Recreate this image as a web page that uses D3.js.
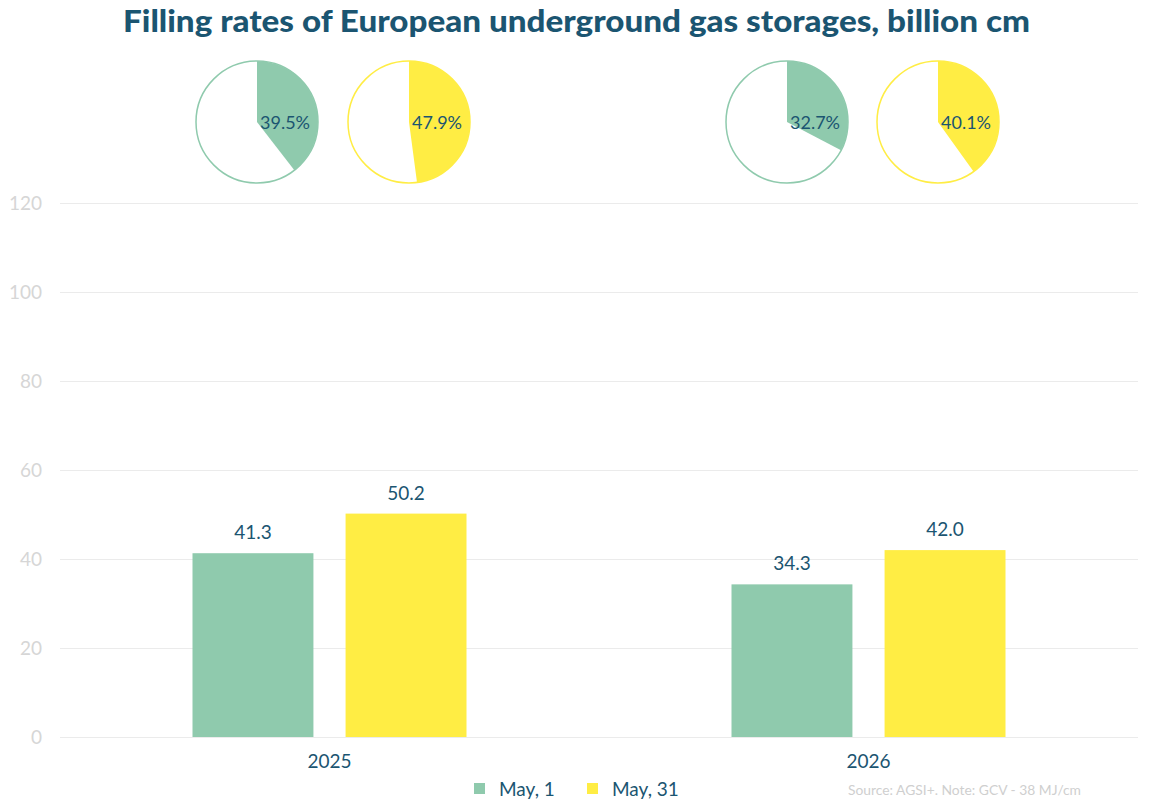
<!DOCTYPE html>
<html><head><meta charset="utf-8">
<script src="https://cdn.jsdelivr.net/npm/d3@7"></script>
<style>body{margin:0;background:#fff;} svg{display:block;font-family:Lato,"Open Sans",sans-serif;}</style>
</head><body>
<svg id="c" width="1160" height="806"></svg>
<script>
const categories = ["2025", "2026"];
const seriesNames = ["May, 1", "May, 31"];
const may1 = [41.3, 34.3];
const may31 = [50.2, 42.0];
const pctMay1 = [39.5, 32.7];
const pctMay31 = [47.9, 40.1];
const yTicks = [0, 20, 40, 60, 80, 100, 120];
const colors = ["#8fcaad", "#ffed44"];
const textColor = "#1b5571";

const svg = d3.select("#c");
const plotLeft = 60, plotRight = 1138, plotTop = 203, plotBottom = 737;

svg.append("text").attr("x", 123).attr("y", 32)
  .attr("font-size", 31).attr("font-weight", 900).attr("fill", textColor)
  .attr("textLength", 907).attr("lengthAdjust", "spacingAndGlyphs")
  .text("Filling rates of European underground gas storages, billion cm");

const y = d3.scaleLinear().domain([0, 120]).range([plotBottom, plotTop]);
const x = d3.scaleBand().domain(categories).range([plotLeft, plotRight]);
const xs = d3.scaleBand().domain(seriesNames).range([0, 274]).paddingInner(0.21);

// grid
const yAxis = d3.axisLeft(y).tickValues(yTicks).tickSize(-(plotRight - plotLeft)).tickPadding(18);
const gy = svg.append("g").attr("transform", `translate(${plotLeft},0)`).call(yAxis);
gy.select(".domain").remove();
gy.selectAll(".tick line").attr("stroke", "#ebebeb");
gy.selectAll(".tick text").attr("fill", "#d6d6d6").attr("font-size", 19).attr("font-family", "Lato");

const data = [may1, may31];
categories.forEach((c, i) => {
  const cx = x(c) + x.bandwidth() / 2;
  const gx = cx - 137;
  seriesNames.forEach((s, j) => {
    const v = data[j][i];
    svg.append("rect").attr("x", gx + xs(s)).attr("y", y(v))
      .attr("width", xs.bandwidth()).attr("height", y(0) - y(v)).attr("fill", colors[j]);
    svg.append("text").attr("x", gx + xs(s) + xs.bandwidth() / 2).attr("y", y(v) - 14)
      .attr("text-anchor", "middle").attr("font-size", 19).attr("fill", textColor)
      .text(v.toFixed(1));
  });
  svg.append("text").attr("x", cx).attr("y", 768).attr("text-anchor", "middle")
    .attr("font-size", 19).attr("fill", textColor).text(c);
});

// pies
const pcts = [pctMay1, pctMay31];
const pieCenters = [[257, 409], [787, 938]];
const r = 61;
const arc = d3.arc().innerRadius(0).outerRadius(r);
categories.forEach((c, i) => {
  [0, 1].forEach(j => {
    const p = pcts[j][i];
    const g = svg.append("g").attr("transform", `translate(${pieCenters[i][j]},122)`);
    const pie = d3.pie().sort(null)([p, 100 - p]);
    g.append("circle").attr("r", r).attr("fill", "#fff").attr("stroke", colors[j]).attr("stroke-width", 1.5);
    g.append("path").attr("d", arc(pie[0])).attr("fill", colors[j]);
    g.append("text").attr("x", 3).attr("y", 7).attr("font-size", 18).attr("fill", textColor)
      .text(p.toFixed(1) + "%");
  });
});

// legend
const lx = [474, 587];
seriesNames.forEach((s, j) => {
  svg.append("rect").attr("x", lx[j]).attr("y", 783).attr("width", 11).attr("height", 11).attr("fill", colors[j]);
  svg.append("text").attr("x", lx[j] + 25).attr("y", 796).attr("font-size", 19).attr("fill", textColor).text(s);
});
svg.append("text").attr("x", 848).attr("y", 795).attr("font-size", 13).attr("fill", "#cfcfcf")
  .attr("textLength", 233).attr("lengthAdjust", "spacingAndGlyphs")
  .text("Source: AGSI+. Note: GCV - 38 MJ/cm");
</script>
</body></html>
